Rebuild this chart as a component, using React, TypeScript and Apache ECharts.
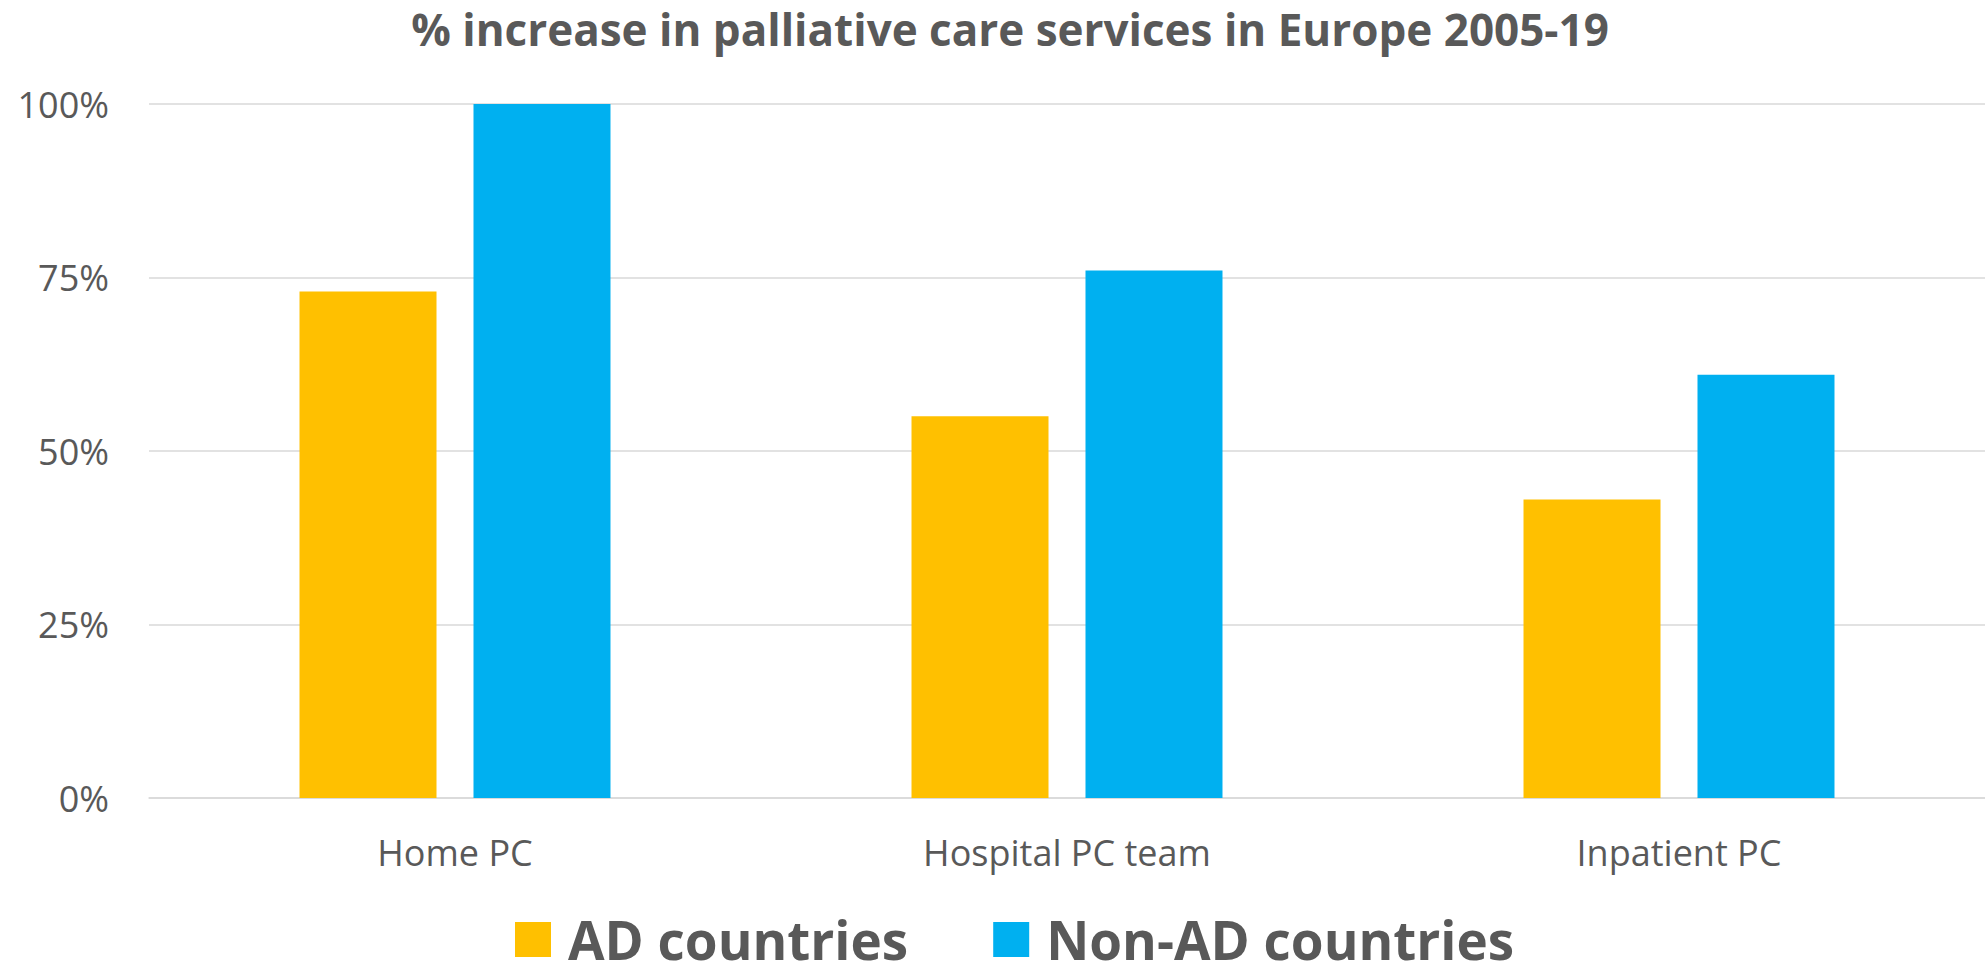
import React, { useEffect, useRef } from "react";
import * as echarts from "echarts";

const categories = ["Home PC", "Hospital PC team", "Inpatient PC"];
const adCountries = [73, 55, 43];
const nonAdCountries = [100, 76, 61];
const seriesNames = ["AD countries", "Non-AD countries"];
const titleText = "% increase in palliative care services in Europe 2005-19";

export default function App() {
  const ref = useRef<HTMLDivElement>(null);
  useEffect(() => {
    if (!ref.current) return;
    const chart = echarts.init(ref.current, undefined, { renderer: "svg" });
    const textColor = "#595959";
    const font = "'Open Sans', sans-serif";
    chart.setOption({
      animation: false,
      backgroundColor: "#ffffff",
      title: {
        text: titleText,
        left: 1010,
        top: 7,
        padding: 0,
        textAlign: "center",
        textStyle: {
          fontFamily: font,
          fontWeight: "bold",
          fontSize: 44,
          color: textColor,
        },
      },
      legend: {
        left: 515,
        top: 913,
        padding: 0,
        itemWidth: 36,
        itemHeight: 35,
        itemGap: 85,
        icon: "rect",
        data: seriesNames,
        textStyle: {
          fontFamily: font,
          fontWeight: "bold",
          fontSize: 53,
          lineHeight: 53,
          color: textColor,
          padding: [0, 0, 0, 12],
        },
      },
      grid: { left: 149, right: 0, top: 104, bottom: 165, containLabel: false },
      xAxis: {
        type: "category",
        data: categories,
        axisTick: { show: false },
        axisLine: { show: true, lineStyle: { color: "#D9D9D9", width: 1.5 } },
        axisLabel: {
          margin: 36,
          fontFamily: font,
          fontSize: 36,
          color: textColor,
        },
      },
      yAxis: {
        type: "value",
        min: 0,
        max: 100,
        interval: 25,
        axisLine: { show: false },
        axisTick: { show: false },
        splitLine: { lineStyle: { color: "#D9D9D9", width: 1.5 } },
        axisLabel: {
          margin: 40,
          formatter: "{value}%",
          fontFamily: font,
          fontSize: 36,
          color: textColor,
        },
      },
      series: [
        {
          name: seriesNames[0],
          type: "bar",
          data: adCountries,
          barWidth: 137,
          barGap: "27%",
          itemStyle: { color: "#FFC000" },
        },
        {
          name: seriesNames[1],
          type: "bar",
          data: nonAdCountries,
          barWidth: 137,
          barGap: "27%",
          itemStyle: { color: "#00B0F0" },
        },
      ],
    });
    return () => chart.dispose();
  }, []);
  return (
    <div
      ref={ref}
      style={{ position: "fixed", left: 0, top: 0, width: 1985, height: 963 }}
    />
  );
}
